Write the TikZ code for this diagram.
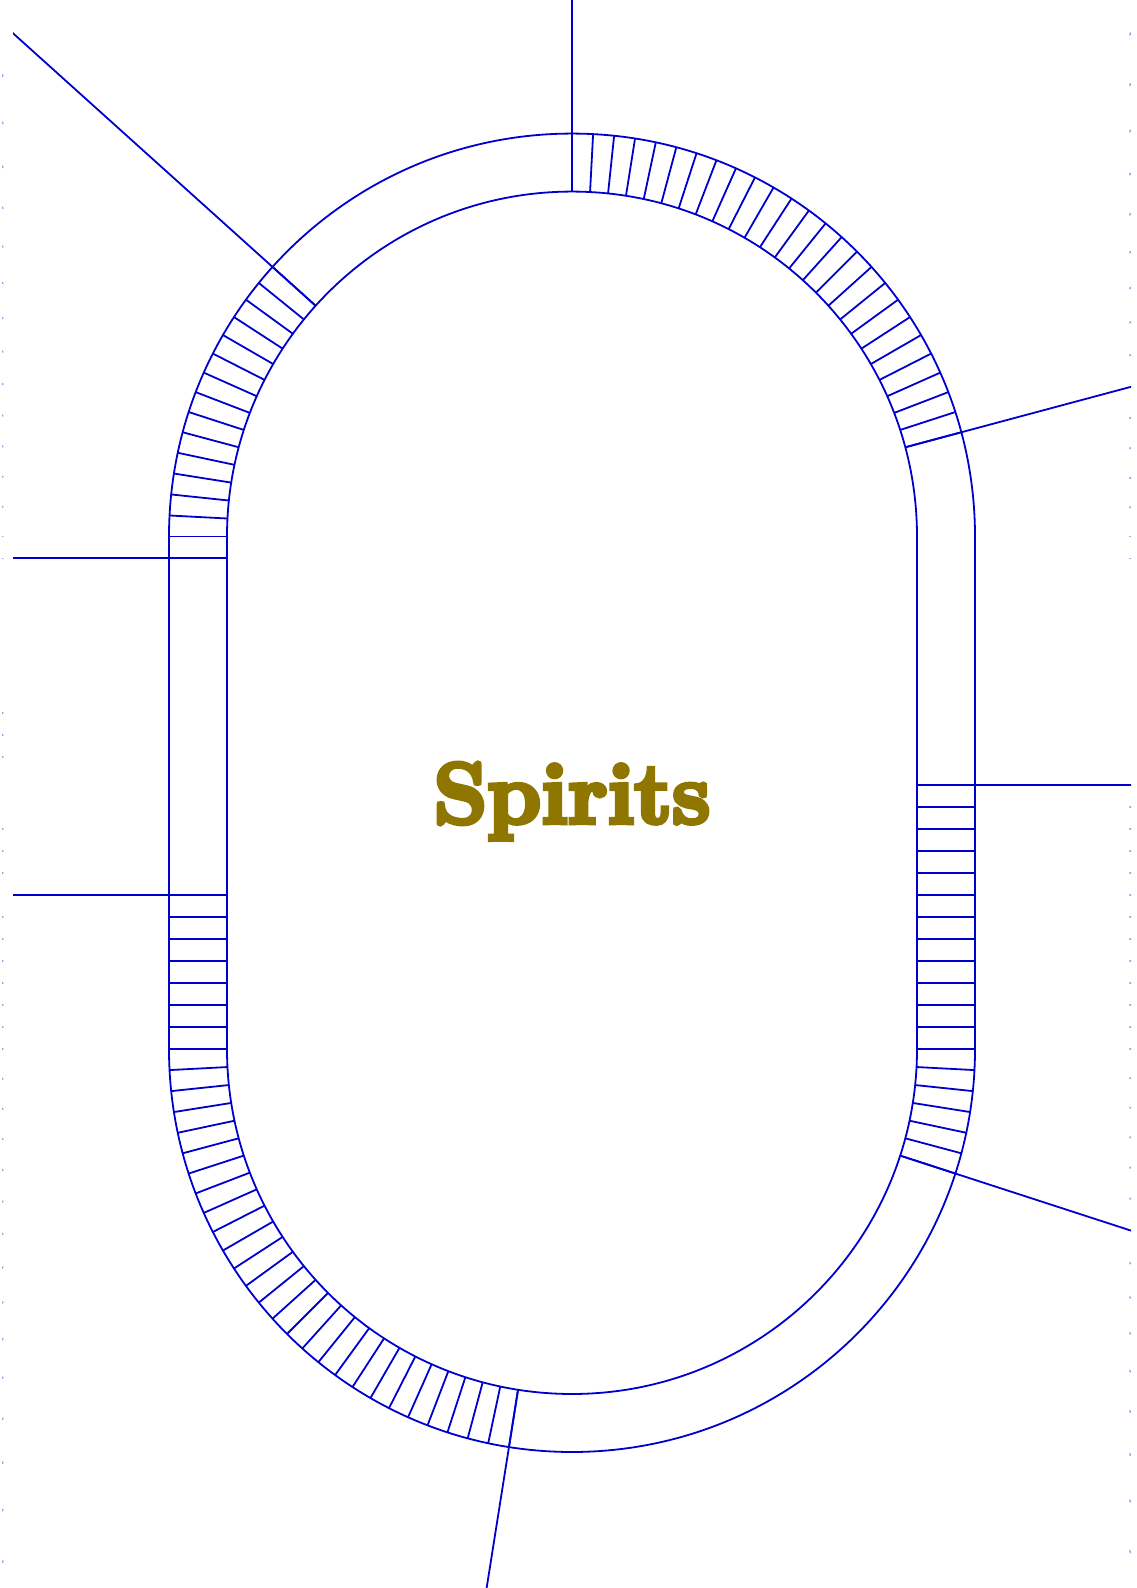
\documentclass[tikz,border=0pt]{standalone}
\usepackage{fontspec}
\definecolor{trackblue}{RGB}{0,0,205}
\definecolor{titlegold}{RGB}{143,118,0}
\newcommand{\heavytext}[1]{\special{pdf:code 2 Tr 2.4 w}#1\special{pdf:code 0 Tr}}

\begin{document}
\begin{tikzpicture}[x=0.5pt,y=0.5pt,
    track/.style={draw=trackblue, line width=0.9pt},
    rung/.style={trackblue, line width=0.9pt},
    speck/.style={trackblue!40, line width=0.9pt}]
  \useasboundingbox (0,0) rectangle (1136,1588);
  \coordinate (top) at (572,1051.4);
  \coordinate (bot) at (572,539);

  % outer and inner rails
  \draw[track] (169,539) -- (169,1051.4) arc[start angle=180,end angle=0,radius=403]
    -- (975,539) arc[start angle=0,end angle=-180,radius=403] -- cycle;
  \draw[track] (227,539) -- (227,1051.4) arc[start angle=180,end angle=0,radius=345]
    -- (917,539) arc[start angle=0,end angle=-180,radius=345] -- cycle;

  % rungs on the bends
  \foreach \a in {15,18,...,90} \draw[rung,shift={(top)}] (\a:345) -- (\a:403);
  \foreach \a in {138,141,...,180} \draw[rung,shift={(top)}] (\a:345) -- (\a:403);
  \foreach \a in {-18,-15,...,0} \draw[rung,shift={(bot)}] (\a:345) -- (\a:403);
  \foreach \a in {180,183,...,261} \draw[rung,shift={(bot)}] (\a:345) -- (\a:403);

  % rungs on the straights
  \foreach \d in {0,22} \draw[rung] (169,1051.4-\d) -- (227,1051.4-\d);
  \foreach \d in {0,22,...,154} \draw[rung] (169,539+\d) -- (227,539+\d);
  \foreach \d in {0,22,...,264} \draw[rung] (917,539+\d) -- (975,539+\d);

  % section marks
  \begin{scope}
    \clip (13,0) rectangle (1131,1588);
    \foreach \a in {15,90,138} \draw[rung,shift={(top)}] (\a:345) -- (\a:1200);
    \foreach \a in {-18,261} \draw[rung,shift={(bot)}] (\a:345) -- (\a:1200);
    \draw[rung] (0,1029.6) -- (227,1029.6);
    \draw[rung] (0,693) -- (227,693);
    \draw[rung] (917,803) -- (1136,803);
  \end{scope}

  % specks at the left edge
  \begin{scope}
    \clip (2,0) rectangle (3.4,1588);
    \foreach \a in {141,144,...,180} \draw[speck,shift={(top)}] (\a:345) -- (\a:1200);
    \foreach \a in {183,186,...,222} \draw[speck,shift={(bot)}] (\a:345) -- (\a:1200);
    \foreach \y in {1029.4,875,853,831,759,737,715} \draw[speck] (0,\y) -- (20,\y);
    \foreach \d in {0,22,...,132} \draw[speck] (0,539+\d) -- (20,539+\d);
  \end{scope}

  % specks at the right edge
  \begin{scope}
    \clip (1129.4,0) rectangle (1130.8,1588);
    \foreach \a in {0,3,...,12,18,21,...,42} \draw[speck,shift={(top)}] (\a:345) -- (\a:1200);
    \foreach \a in {-3,-6,...,-15,-21,-24,...,-42} \draw[speck,shift={(bot)}] (\a:345) -- (\a:1200);
    \draw[speck] (1100,1029.4) -- (1136,1029.4);
    \foreach \d in {0,22,...,242} \draw[speck] (1100,539+\d) -- (1136,539+\d);
  \end{scope}

  % title
  \node[text=titlegold, anchor=base, inner sep=0pt,
        font={\bfseries\fontsize{43}{50}\selectfont}]
    (title) at (572,765) {\heavytext{Spirits}};
\end{tikzpicture}
\end{document}
